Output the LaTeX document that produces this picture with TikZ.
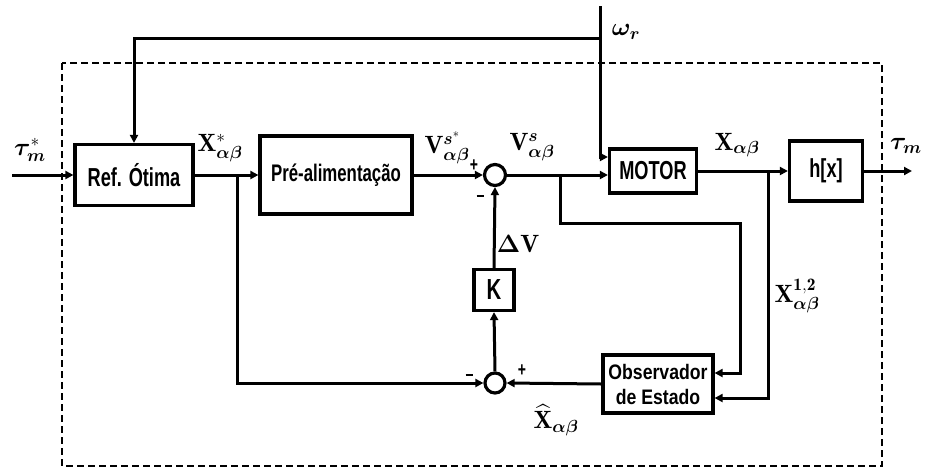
\RequirePackage{fix-cm}
\documentclass[tikz,border=0pt]{standalone}
\usepackage{amsmath}
\usepackage{bm}
\usepackage{fontspec}
\newfontfamily\bfont[FakeStretch=0.7]{Liberation Sans}
\newfontfamily\ofont[FakeStretch=0.84]{Liberation Sans}
\usetikzlibrary{arrows.meta}
\begin{document}
\begin{tikzpicture}[x=1pt,y=-1pt,
  arr/.style={line width=3pt,-{Triangle[length=8pt,width=8pt]}},
  blk/.style={draw,line width=3.2pt,inner sep=0pt,font=\bfont\bfseries\fontsize{26}{28}\selectfont},
  sumc/.style={draw,circle,line width=3.2pt,minimum size=21pt,inner sep=0pt},
  lab/.style={inner sep=0pt,font=\fontsize{25}{27}\selectfont},
  sgn/.style={inner sep=0pt,font=\bfont\bfseries\fontsize{20}{22}\selectfont}]
\useasboundingbox (0,0) rectangle (930,475);
% dashed system boundary
\draw[line width=1.7pt,dash pattern=on 7pt off 4pt] (62,63) rectangle (882,466);
% blocks
\node[blk,minimum width=118pt,minimum height=61pt] (ref) at (134,175) {Ref. Ótima};
\node[blk,minimum width=152pt,minimum height=78pt,font=\bfont\bfseries\fontsize{24}{26}\selectfont] (pre) at (336,175) {Pré-alimentação};
\node[sumc] (s1) at (495,175) {};
\node[blk,minimum width=87pt,minimum height=44pt] (mot) at (653,171) {MOTOR};
\node[blk,minimum width=73pt,minimum height=60pt] (hx) at (826,171) {h[x]};
\node[blk,minimum width=40pt,minimum height=41pt,font=\bfont\bfseries\fontsize{29}{30}\selectfont] (K) at (494,290) {K};
\node[sumc,minimum size=20pt] (s2) at (495,383) {};
\node[blk,minimum width=110pt,minimum height=58pt,align=center,font=\ofont\bfseries\fontsize{21}{25}\selectfont] (obs) at (658,384) {Observador\\de Estado};
% coordinates
\coordinate (in) at (12,175);
\coordinate (out) at (912,171);
\coordinate (wt) at (600,6);
\coordinate (wj) at (600,38);
\coordinate (b0) at (237,175);
\coordinate (b1) at (560,175);
\coordinate (c1) at (740,223);
\coordinate (b2) at (768,171);
% connectors
\draw[arr] (in) -- (ref.west);
\draw[arr] (ref.east) -- (pre.west);
\draw[arr] (pre.east) -- (s1.west);
\draw[arr] (s1.east) -- ([yshift=-4pt]mot.west);
\draw[arr] (wt) |- ([yshift=14pt]mot.west);
\draw[arr] (wj) -| (ref.north);
\draw[arr] (mot.east) -- (hx.west);
\draw[arr] (hx.east) -- (out);
\draw[arr] (b0) |- (s2.west);
\draw[arr] (b1) |- (c1) |- ([yshift=11pt]obs.east);
\draw[arr] (b2) |- ([yshift=-14pt]obs.east);
\draw[arr] (obs.west) -- (s2.east);
\draw[arr] (s2.north) -- (K.south);
\draw[arr] (K.north) -- (s1.south);
% labels
\node[lab] (l1) at (30,150) {$\bm{\tau}^{*}_{\bm{m}}$};
\node[lab] (l2) at (220,148) {$\mathbf{X}^{*}_{\bm{\alpha\beta}}$};
\node[lab] (l3) at (447,148) {$\mathbf{V}^{\bm{s}^{*}}_{\bm{\alpha\beta}}$};
\node[sgn] (p1) at (474,166) {+};
\node[sgn] (m1) at (480,196) {\rule{7pt}{2.6pt}};
\node[lab] (l4) at (532,147) {$\mathbf{V}^{\bm{s}}_{\bm{\alpha\beta}}$};
\node[lab] (l5) at (737,145) {$\mathbf{X}_{\bm{\alpha\beta}}$};
\node[lab] (l6) at (906,146) {$\bm{\tau}_{\bm{m}}$};
\node[lab] (l7) at (626,32) {$\bm{\omega}_{\bm{r}}$};
\node[lab] (l8) at (518,244) {$\bm{\Delta}\mathbf{V}$};
\node[sgn] (m2) at (469,375) {\rule{7pt}{2.6pt}};
\node[sgn] (p2) at (522,371) {+};
\node[lab] (l9) at (556,420) {$\widehat{\mathbf{X}}_{\bm{\alpha\beta}}$};
\node[lab] (l10) at (797,296) {$\mathbf{X}^{\mathbf{1,2}}_{\bm{\alpha\beta}}$};
\end{tikzpicture}
\end{document}
